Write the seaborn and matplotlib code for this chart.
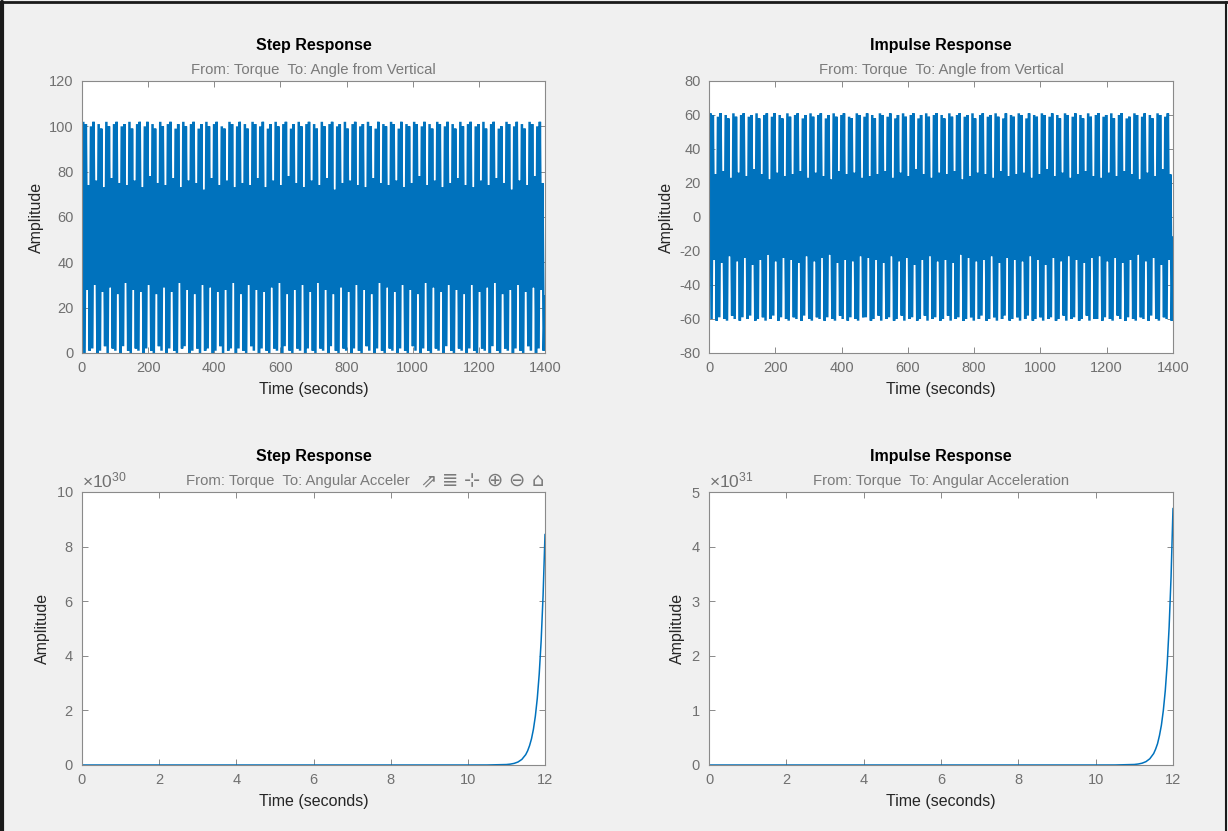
import numpy as np
import matplotlib
matplotlib.use("Agg")
import matplotlib.pyplot as plt
from matplotlib.ticker import ScalarFormatter, MultipleLocator
from matplotlib.lines import Line2D
import seaborn as sns

# Step response (angle): peak and trough of each swing
step_peaks = [
    102, 101, 74, 100, 102, 76, 101, 99, 73, 102, 100, 77, 101, 102, 75, 100, 101, 74, 102, 99, 76, 101, 102, 73, 100, 102, 78, 101, 99, 75,
    102, 100, 74, 101, 102, 77, 99, 101, 73, 102, 100, 76, 101, 102, 75, 99, 101, 72, 102, 100, 77, 101, 102, 74, 100, 99, 76, 102, 101, 73,
    100, 102, 75, 101, 99, 74, 102, 101, 77, 100, 102, 73, 99, 101, 76, 102, 100, 74, 101, 102, 78, 99, 101, 75, 102, 100, 73, 101, 102, 76,
    101, 99, 74, 102, 100, 77, 101, 102, 72, 100, 101, 75, 102, 99, 76, 101, 102, 74, 100, 101, 73, 102, 100, 77, 99, 102, 75, 101, 100, 74,
    102, 101, 76, 99, 102, 73, 101, 100, 75, 102, 101, 78, 100, 102, 74, 101, 99, 76, 102, 101, 73, 100, 102, 75, 101, 99, 77, 102, 100, 74,
    101, 102, 73, 100, 101, 76, 102, 99, 74, 101, 102, 77, 99, 100, 75, 102, 101, 72, 100, 102, 76, 101, 99, 74, 102, 101, 78, 100, 102, 75]
step_troughs = [
    0, 28, 1, 2, 30, 0, 1, 27, 3, 0, 29, 2, 1, 26, 0, 3, 31, 1, 0, 28, 2, 1, 27, 0, 2, 30, 1, 0, 26, 3,
    1, 29, 0, 2, 27, 1, 0, 31, 2, 3, 28, 0, 1, 26, 2, 0, 30, 1, 2, 29, 0, 1, 27, 3, 0, 28, 1, 2, 31, 0,
    2, 26, 1, 0, 30, 3, 1, 28, 0, 2, 27, 1, 0, 29, 2, 1, 31, 0, 3, 26, 1, 0, 28, 2, 1, 30, 0, 2, 27, 1,
    0, 31, 2, 1, 28, 0, 3, 26, 1, 0, 29, 2, 1, 27, 0, 2, 30, 1, 0, 28, 3, 1, 26, 0, 2, 31, 1, 0, 29, 2,
    1, 27, 0, 2, 30, 1, 0, 28, 3, 1, 26, 0, 2, 31, 1, 0, 29, 2, 1, 27, 0, 3, 30, 1, 0, 28, 2, 1, 26, 0,
    2, 30, 1, 0, 27, 2, 1, 29, 0, 3, 31, 1, 0, 26, 2, 1, 28, 0, 2, 30, 1, 0, 27, 3, 1, 29, 0, 2, 28, 1]
step_start, step_end = 0, 25

# Impulse response (angle)
imp_peaks = [
    61, 60, 25, 59, 61, 27, 60, 58, 23, 61, 59, 26, 60, 61, 24, 59, 60, 28, 61, 58, 25, 60, 61, 22, 59, 61, 26, 60, 58, 24,
    61, 59, 25, 60, 61, 27, 58, 60, 23, 61, 59, 26, 60, 61, 24, 58, 60, 22, 61, 59, 27, 60, 61, 25, 59, 58, 26, 61, 60, 23,
    59, 61, 24, 60, 58, 25, 61, 60, 27, 59, 61, 23, 58, 60, 26, 61, 59, 24, 60, 61, 28, 58, 60, 25, 61, 59, 23, 60, 61, 26,
    60, 58, 25, 61, 59, 27, 60, 61, 22, 59, 60, 24, 61, 58, 26, 60, 61, 25, 59, 60, 23, 61, 59, 27, 58, 61, 24, 60, 59, 25,
    61, 60, 26, 58, 61, 23, 60, 59, 25, 61, 60, 28, 59, 61, 24, 60, 58, 26, 61, 60, 23, 59, 61, 25, 60, 58, 27, 61, 59, 24,
    60, 61, 23, 59, 60, 26, 61, 58, 24, 60, 61, 27, 58, 59, 25, 61, 60, 22, 59, 61, 26, 60, 58, 24, 61, 60, 28, 59, 61, 25]
imp_troughs = [
    -60, -25, -61, -59, -27, -60, -61, -23, -58, -60, -26, -61, -59, -24, -60, -58, -28, -61, -60, -25, -59, -61, -22, -60, -58, -26, -61, -59, -24, -60,
    -61, -25, -59, -60, -27, -61, -58, -23, -60, -61, -26, -59, -60, -24, -61, -59, -22, -60, -61, -27, -58, -60, -25, -61, -59, -26, -60, -61, -23, -59,
    -59, -24, -61, -60, -25, -58, -61, -27, -60, -59, -23, -61, -60, -26, -58, -61, -24, -60, -59, -28, -61, -60, -25, -58, -61, -23, -60, -59, -26, -61,
    -60, -25, -58, -61, -27, -60, -59, -22, -61, -60, -24, -59, -61, -26, -60, -58, -25, -61, -60, -23, -59, -61, -27, -60, -58, -24, -61, -60, -25, -59,
    -61, -26, -60, -58, -23, -61, -60, -25, -59, -61, -28, -60, -59, -24, -61, -60, -26, -58, -61, -23, -60, -59, -25, -61, -60, -27, -58, -61, -24, -60,
    -60, -23, -61, -59, -26, -60, -61, -24, -58, -60, -27, -61, -59, -25, -60, -61, -22, -59, -60, -26, -61, -58, -24, -60, -61, -28, -59, -60, -25, -61]
imp_start, imp_end = 0, -12

# Angular acceleration responses (values x1e30 / x1e31)
acc_t = [0, 2, 4, 6, 8, 10, 10.5, 11.0, 11.1, 11.2, 11.3, 11.4, 11.5, 11.55, 11.6, 11.65,
         11.7, 11.75, 11.8, 11.85, 11.9, 11.95, 12.0]
acc_step = [0, 0, 0, 0, 0, 0.00004, 0.0008, 0.017, 0.032, 0.059, 0.11, 0.205, 0.38, 0.52, 0.71, 0.96,
            1.31, 1.79, 2.44, 3.33, 4.54, 6.20, 8.45]
acc_imp = [0, 0, 0, 0, 0, 0.00002, 0.0004, 0.0095, 0.018, 0.033, 0.061, 0.114, 0.21, 0.29, 0.39, 0.54,
           0.73, 1.00, 1.36, 1.85, 2.53, 3.45, 4.70]

titles = ["Step Response", "Impulse Response", "Step Response", "Impulse Response"]
subtitles = ["From: Torque  To: Angle from Vertical", "From: Torque  To: Angle from Vertical",
             "From: Torque  To: Angular Acceler", "From: Torque  To: Angular Acceleration"]
toolbar_icons = ["\u21d7", "\u2263", "\u22b9", "\u2295", "\u2296", "\u2302"]

LINE = "#0072BD"
BG = "#F0F0F0"
TICK = "#707070"
SPINE = "#8a8a8a"

sns.set_style("ticks")
plt.rcParams["font.family"] = ["Liberation Sans", "DejaVu Sans"]
plt.rcParams["mathtext.fontset"] = "custom"
plt.rcParams["mathtext.rm"] = "Liberation Sans"
plt.rcParams["axes.unicode_minus"] = False
plt.rcParams["path.simplify"] = False


def swing(peaks, troughs, start, end):
    vals = [start]
    for p, q in zip(peaks, troughs):
        vals += [p, q]
    vals.append(end)
    return np.array(vals, dtype=float)


step_y = swing(step_peaks, step_troughs, step_start, step_end)
imp_y = swing(imp_peaks, imp_troughs, imp_start, imp_end)
step_x = np.linspace(0, 1400, len(step_y))
imp_x = np.linspace(0, 1400, len(imp_y))

fig = plt.figure(figsize=(12.28, 8.31), dpi=100, facecolor=BG)
W, H = 1228, 831
boxes = [(82, 81, 545, 353), (709, 81, 1173, 353), (82, 492, 545, 765), (709, 492, 1173, 765)]
axes = []
for (x0, y0, x1, y1) in boxes:
    axes.append(fig.add_axes([x0 / W, 1 - y1 / H, (x1 - x0) / W, (y1 - y0) / H]))

for ax, xs, ys in [(axes[0], step_x, step_y), (axes[1], imp_x, imp_y)]:
    sns.lineplot(x=xs, y=ys, ax=ax, color=LINE, linewidth=1.8, sort=False, estimator=None,
                 solid_joinstyle="bevel")
sns.lineplot(x=acc_t, y=np.array(acc_step) * 1e30, ax=axes[2], color=LINE, linewidth=1.1)
sns.lineplot(x=acc_t, y=np.array(acc_imp) * 1e31, ax=axes[3], color=LINE, linewidth=1.1)

axes[0].set_xlim(0, 1400)
axes[0].set_ylim(0, 120)
axes[0].yaxis.set_major_locator(MultipleLocator(20))
axes[1].set_xlim(0, 1400)
axes[1].set_ylim(-80, 80)
axes[1].yaxis.set_major_locator(MultipleLocator(20))
for ax in axes[:2]:
    ax.xaxis.set_major_locator(MultipleLocator(200))

axes[2].set_xlim(0, 12)
axes[2].set_ylim(0, 10e30)
axes[2].yaxis.set_major_locator(MultipleLocator(2e30))
axes[3].set_xlim(0, 12)
axes[3].set_ylim(0, 5e31)
axes[3].yaxis.set_major_locator(MultipleLocator(1e31))
for ax, p in [(axes[2], 30), (axes[3], 31)]:
    ax.xaxis.set_major_locator(MultipleLocator(2))
    fmt = ScalarFormatter(useMathText=True)
    fmt.set_powerlimits((p, p))
    ax.yaxis.set_major_formatter(fmt)
    ax.yaxis.get_offset_text().set_fontsize(12.5)
    ax.yaxis.get_offset_text().set_color(TICK)

for i, ax in enumerate(axes):
    ax.set_facecolor("white")
    for s in ax.spines.values():
        s.set_visible(True)
        s.set_color(SPINE)
        s.set_linewidth(0.8)
    ax.tick_params(direction="in", length=4, width=0.7, color=SPINE, labelcolor=TICK,
                   labelsize=10.5, top=True, right=True, pad=6)
    ax.set_xlabel("Time (seconds)", fontsize=11.5, color="#262626", labelpad=5)
    ax.set_ylabel("Amplitude", fontsize=11.5, color="#262626", labelpad=4)
    ax.text(0.5, 1.115, titles[i], transform=ax.transAxes, ha="center", va="baseline",
            fontsize=11.5, fontweight="bold", color="black")
    if i == 2:
        ax.text(0.2246, 1.025, subtitles[i], transform=ax.transAxes, ha="left", va="baseline",
                fontsize=10.7, color="#7a7a7a")
        for k, icon in enumerate(toolbar_icons):
            ax.text((428 + 22 * k - 82) / 463, 1.022, icon, transform=ax.transAxes,
                    ha="center", va="baseline", fontsize=14, color="#7a7a7a", family="DejaVu Sans")
    else:
        ax.text(0.5, 1.025, subtitles[i], transform=ax.transAxes, ha="center", va="baseline",
                fontsize=10.7, color="#7a7a7a")

# window frame
fig.add_artist(Line2D([0.002, 0.002], [0, 0.997], transform=fig.transFigure, color="#1a1a1a", lw=3))
fig.add_artist(Line2D([0, 1], [0.997, 0.997], transform=fig.transFigure, color="#1a1a1a", lw=2))
fig.add_artist(Line2D([0.9985, 0.9985], [0, 0.997], transform=fig.transFigure, color="#1a1a1a", lw=1.5))

fig.savefig("out.png", dpi=100, facecolor=BG)
